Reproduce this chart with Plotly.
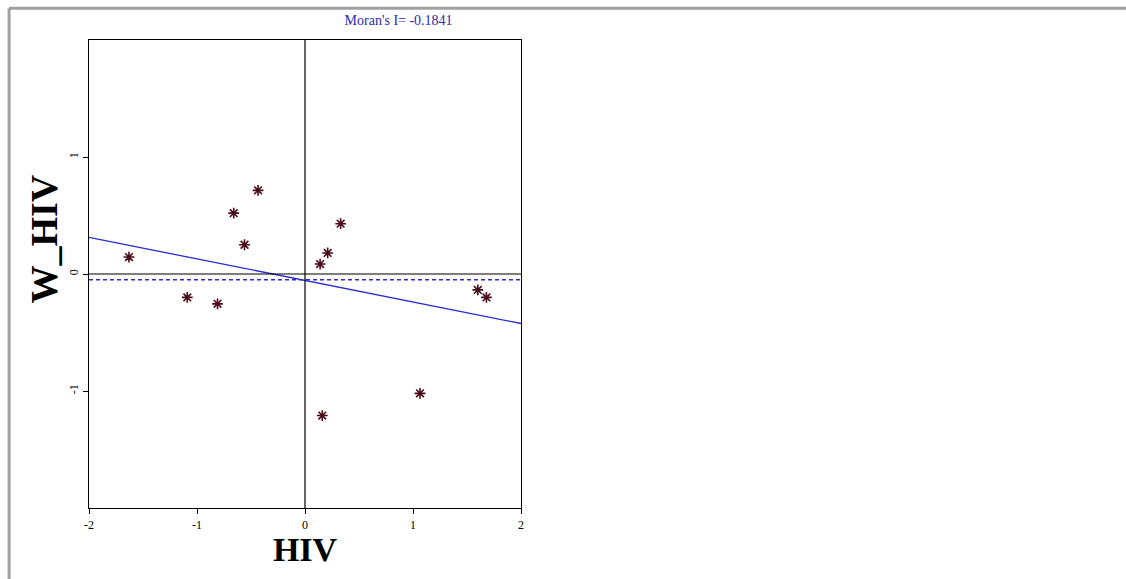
import plotly.graph_objects as go

# Data
hiv = [-1.63, -1.09, -0.81, -0.66, -0.56, -0.435, 0.14, 0.21, 0.33, 0.16, 1.065, 1.60, 1.68]
w_hiv = [0.145, -0.20, -0.255, 0.52, 0.25, 0.715, 0.085, 0.18, 0.43, -1.21, -1.02, -0.136, -0.20]
moran_i = -0.1841
fit_intercept = -0.055
w_mean = -0.05
x_range = [-2, 2]
y_range = [-2, 2]
x_ticks = [-2, -1, 0, 1, 2]
x_labels = ["-2", "-1", "0", "1", "2"]
y_ticks = [-1, 0, 1]
y_labels = ["-1", "0", "1"]

serif = "Liberation Serif, Times New Roman, serif"

fig = go.Figure()

fit_x = x_range
fit_y = [fit_intercept + moran_i * v for v in fit_x]
fig.add_trace(go.Scatter(x=fit_x, y=fit_y, mode="lines",
                         line=dict(color="#2a2ad0", width=1.3), hoverinfo="skip"))
fig.add_trace(go.Scatter(x=x_range, y=[w_mean, w_mean], mode="lines",
                         line=dict(color="#2a2ad0", width=1.5, dash="4px,3px"), hoverinfo="skip"))
fig.add_trace(go.Scatter(x=hiv, y=w_hiv, mode="markers",
                         marker=dict(symbol="asterisk-open", size=9, color="#4a0a1a",
                                     line=dict(color="#4a0a1a", width=1.6))))

# zero lines
fig.add_shape(type="line", x0=0, x1=0, y0=y_range[0], y1=y_range[1], xref="x", yref="y",
              layer="above", line=dict(color="black", width=1.2))
fig.add_shape(type="line", x0=x_range[0], x1=x_range[1], y0=0, y1=0, xref="x", yref="y",
              layer="above", line=dict(color="black", width=1.2))

# outer gray frame
fig.add_shape(type="line", xref="paper", yref="paper", x0=-0.185, x1=2.5, y0=1.068, y1=1.068,
              line=dict(color="#a0a0a0", width=3))
fig.add_shape(type="line", xref="paper", yref="paper", x0=-0.185, x1=-0.185, y0=1.068, y1=-0.2,
              line=dict(color="#a0a0a0", width=3))

axis_common = dict(showgrid=False, zeroline=False, showline=True, linecolor="black",
                   linewidth=1.2, mirror=True, ticks="outside", ticklen=5, tickcolor="black",
                   tickfont=dict(family=serif, size=12, color="black"))

fig.update_xaxes(range=x_range, tickvals=x_ticks, ticktext=x_labels, **axis_common,
                 title=dict(text="<b>HIV</b>", font=dict(family=serif, size=34, color="black"),
                            standoff=4))
fig.update_yaxes(range=y_range, tickvals=y_ticks, ticktext=y_labels, tickangle=-90, **axis_common)

fig.add_annotation(text="<b>W_HIV</b>", xref="paper", yref="paper", x=-0.105, y=0.575,
                   textangle=-90, showarrow=False, xanchor="center", yanchor="middle",
                   font=dict(family=serif, size=38, color="black"))

fig.update_layout(
    width=1126, height=579,
    margin=dict(l=89, r=605, t=40, b=71),
    paper_bgcolor="white", plot_bgcolor="white",
    showlegend=False,
    title=dict(text="Moran's I= -0.1841", x=0.354, xanchor="center", y=0.965, yanchor="middle",
               font=dict(family=serif, size=14, color="#2a2ab0")),
)

fig.write_html("out.html")
